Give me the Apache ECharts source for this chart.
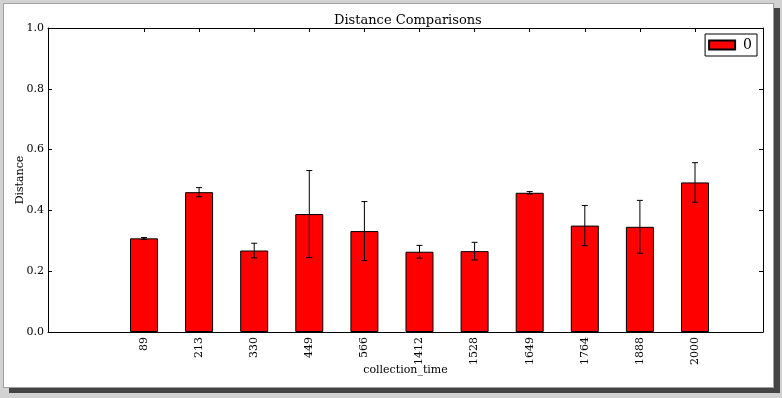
<!DOCTYPE html>
<html>
<head>
<meta charset="utf-8">
<script src="https://cdn.jsdelivr.net/npm/echarts@6/dist/echarts.min.js"></script>
<style>
  html, body { margin: 0; padding: 0; background: #d2d2d2; }
  #frame {
    position: absolute; left: 3px; top: 3px; width: 769px; height: 383px;
    background: #fff; border: 1px solid #a0a0a0;
    box-shadow: 6px 5px 0 #444;
  }
  #chart { position: absolute; left: 0; top: 0; width: 782px; height: 398px; }
</style>
</head>
<body>
<div id="frame"></div>
<div id="chart"></div>
<script>
// data
const categories = ['89', '213', '330', '449', '566', '1412', '1528', '1649', '1764', '1888', '2000']
const distance = [0.308, 0.460, 0.268, 0.388, 0.332, 0.264, 0.266, 0.458, 0.350, 0.346, 0.492]
const errors = [0.003, 0.015, 0.024, 0.143, 0.097, 0.021, 0.029, 0.004, 0.066, 0.087, 0.065]

const serif = '"DejaVu Serif", serif'
const idx = categories.map((c, i) => i)

const chart = echarts.init(document.getElementById('chart'))

// error bars with caps
function renderErr(params, api) {
  const x = api.value(0)
  const lo = api.coord([x, api.value(1)])
  const hi = api.coord([x, api.value(2)])
  const cap = 3
  const style = { stroke: '#000', lineWidth: 1 }
  return {
    type: 'group',
    children: [
      { type: 'line', shape: { x1: lo[0], y1: lo[1], x2: hi[0], y2: hi[1] }, style },
      { type: 'line', shape: { x1: hi[0] - cap, y1: hi[1], x2: hi[0] + cap, y2: hi[1] }, style },
      { type: 'line', shape: { x1: lo[0] - cap, y1: lo[1], x2: lo[0] + cap, y2: lo[1] }, style }
    ]
  }
}

const xCommon = {
  type: 'value',
  min: -1.742,
  max: 11.234,
  splitLine: { show: false },
  axisLine: { show: true, onZero: false, lineStyle: { color: '#000', width: 1 } },
  axisTick: { show: true, inside: true, length: 4, customValues: idx, lineStyle: { color: '#000' } }
}
const yCommon = {
  type: 'value',
  min: 0,
  max: 1,
  interval: 0.2,
  splitLine: { show: false },
  axisLine: { show: true, onZero: false, lineStyle: { color: '#000', width: 1 } },
  axisTick: { show: true, inside: true, length: 4, lineStyle: { color: '#000' } }
}

chart.setOption({
  animation: false,
  backgroundColor: 'transparent',
  title: {
    text: 'Distance Comparisons',
    left: 329,
    top: 9,
    textStyle: { fontFamily: serif, fontWeight: 'normal', fontSize: 13, color: '#000' }
  },
  legend: {
    right: 25,
    top: 34,
    orient: 'vertical',
    data: ['0'],
    icon: 'rect',
    itemWidth: 26,
    itemHeight: 9,
    padding: [4, 5, 4, 3],
    borderColor: '#000',
    borderWidth: 1,
    backgroundColor: '#fff',
    textStyle: { fontFamily: serif, fontSize: 14, color: '#000', padding: [0, 0, 0, 3] }
  },
  grid: { left: 48, top: 28, right: 19, bottom: 66, outerBoundsMode: 'none', containLabel: false },
  xAxis: [
    Object.assign({}, xCommon, {
      position: 'bottom',
      name: 'collection_time',
      nameLocation: 'middle',
      nameGap: 33,
      nameMoveOverlap: false,
      nameTextStyle: { fontFamily: serif, fontSize: 11, color: '#000' },
      axisLabel: {
        customValues: idx,
        rotate: 90,
        margin: 5,
        fontFamily: serif,
        fontSize: 11,
        color: '#000',
        formatter: v => categories[Math.round(v)]
      }
    }),
    Object.assign({}, xCommon, { position: 'top', axisLabel: { show: false } })
  ],
  yAxis: [
    Object.assign({}, yCommon, {
      position: 'left',
      name: 'Distance',
      nameLocation: 'middle',
      nameGap: 22,
      nameMoveOverlap: false,
      nameTextStyle: { fontFamily: serif, fontSize: 11, color: '#000' },
      axisLabel: {
        margin: 4,
        fontFamily: serif,
        fontSize: 11,
        color: '#000',
        formatter: v => v.toFixed(1)
      }
    }),
    Object.assign({}, yCommon, { position: 'right', axisLabel: { show: false } })
  ],
  series: [
    {
      name: '0',
      type: 'bar',
      barWidth: 28,
      itemStyle: { color: '#ff0000', borderColor: '#000', borderWidth: 1 },
      data: distance.map((v, i) => [i, v])
    },
    {
      type: 'custom',
      renderItem: renderErr,
      z: 5,
      data: distance.map((v, i) => [i, v - errors[i], v + errors[i]])
    }
  ]
})
</script>
</body>
</html>
